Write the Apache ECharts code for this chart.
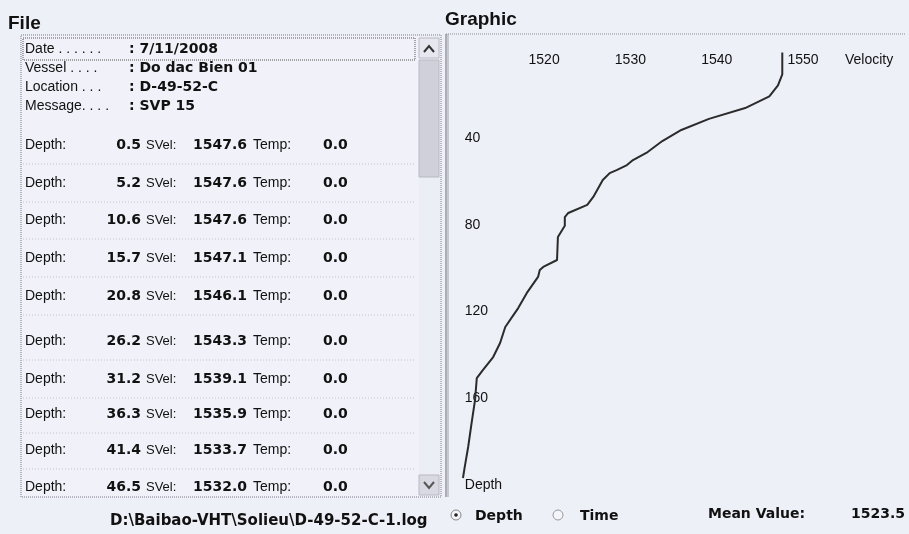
<!DOCTYPE html>
<html>
<head>
<meta charset="utf-8">
<script src="https://cdn.jsdelivr.net/npm/echarts@6/dist/echarts.min.js"></script>
<style>
html,body{margin:0;padding:0;background:#eef0f8;}
#chart{width:909px;height:534px;}
</style>
</head>
<body>
<div id="chart"></div>
<script>
// ---- data ----
const headerLabels = ['Date . . . . . .', 'Vessel . . . .', 'Location . . .', 'Message. . . .'];
const headerValues = ['7/11/2008', 'Do dac Bien 01', 'D-49-52-C', 'SVP 15'];
const listDepth = ['0.5', '5.2', '10.6', '15.7', '20.8', '26.2', '31.2', '36.3', '41.4', '46.5'];
const listSVel  = ['1547.6', '1547.6', '1547.6', '1547.1', '1546.1', '1543.3', '1539.1', '1535.9', '1533.7', '1532.0'];
const listTemp  = ['0.0', '0.0', '0.0', '0.0', '0.0', '0.0', '0.0', '0.0', '0.0', '0.0'];
const filePath = 'D:\\Baibao-VHT\\Solieu\\D-49-52-C-1.log';
const meanValue = '1523.5';

const profileDepth = [0.5, 5.2, 10.6, 15.7, 20.8, 26.2, 31.2, 36.3, 41.4, 46.5, 50.2, 52.5, 54.8, 56.2, 59.4, 67.2, 70.9, 74.6, 76.5, 80.5, 85.7, 96.3, 99.5, 100.9, 104.1, 111.5, 118.5, 120.8, 127.2, 134.6, 141.1, 147.1, 150.8, 160.9, 171.5, 182.6, 191.9, 196.9];
const profileVel   = [1547.6, 1547.6, 1547.6, 1547.1, 1546.1, 1543.3, 1539.1, 1535.9, 1533.7, 1532.0, 1530.3, 1529.6, 1528.4, 1527.6, 1526.8, 1525.7, 1525.0, 1522.8, 1522.4, 1522.4, 1521.6, 1521.5, 1519.9, 1519.5, 1519.3, 1518.0, 1517.0, 1516.6, 1515.5, 1514.9, 1514.1, 1512.9, 1512.2, 1512.0, 1511.6, 1511.2, 1510.8, 1510.6];

const xTickValues = [1520, 1530, 1540, 1550];
const xTickLabels = ['1520', '1530', '1540', '1550'];
const yTickValues = [40, 80, 120, 160, 200];
const yTickLabels = ['40', '80', '120', '160', 'Depth'];

// ---- layout helpers ----
const INK = '#111111';
const REG = '14px "Liberation Sans", Arial, sans-serif';
const BOLD = 'bold 14px "DejaVu Sans", sans-serif';
function txt(x, y, text, font, align, extra) {
  return Object.assign({
    type: 'text', x: x, y: y, silent: true,
    style: { text: text, font: font, fill: INK, align: align || 'left', verticalAlign: 'middle' }
  }, extra || {});
}
function hline(x1, x2, y, color, dash, w) {
  return { type: 'line', silent: true, shape: { x1: x1, y1: y, x2: x2, y2: y },
    style: { stroke: color, lineWidth: w || 1, lineDash: dash || null } };
}
function vline(x, y1, y2, color, dash, w) {
  return { type: 'line', silent: true, shape: { x1: x, y1: y1, x2: x, y2: y2 },
    style: { stroke: color, lineWidth: w || 1, lineDash: dash || null } };
}

const g = [];
// titles
g.push(txt(8, 24, 'File', 'bold 19px "Liberation Sans", Arial, sans-serif'));
g.push(txt(445, 20, 'Graphic', 'bold 19px "Liberation Sans", Arial, sans-serif'));

// list box
g.push({ type: 'rect', silent: true, shape: { x: 21, y: 35, width: 420, height: 462 },
  style: { fill: '#f1f2f9', stroke: '#7a7a86', lineWidth: 1, lineDash: [1, 1] } });
// scrollbar
g.push({ type: 'rect', silent: true, shape: { x: 419, y: 36, width: 21, height: 460 }, style: { fill: '#eceef6' } });
g.push({ type: 'rect', silent: true, shape: { x: 419, y: 60, width: 20, height: 117 }, style: { fill: '#cfd0da', stroke: '#b8b9c4', lineWidth: 1 } });
g.push({ type: 'rect', silent: true, shape: { x: 419, y: 38, width: 20, height: 20 }, style: { fill: '#e6e7ef', stroke: '#b8b9c4', lineWidth: 1 } });
g.push({ type: 'polyline', silent: true, shape: { points: [[424, 52], [429, 46], [434, 52]] }, style: { stroke: '#333', lineWidth: 2, fill: null } });
g.push({ type: 'rect', silent: true, shape: { x: 419, y: 475, width: 20, height: 20 }, style: { fill: '#d8d9e2', stroke: '#b8b9c4', lineWidth: 1 } });
g.push({ type: 'polyline', silent: true, shape: { points: [[424, 482], [429, 488], [434, 482]] }, style: { stroke: '#555', lineWidth: 2, fill: null } });

// header focus rectangle
g.push({ type: 'rect', silent: true, shape: { x: 23, y: 38, width: 392, height: 22 },
  style: { fill: null, stroke: '#555', lineWidth: 1, lineDash: [1, 1] } });
const headerY = [49, 68, 87, 106];
headerLabels.forEach(function (lab, i) {
  g.push(txt(25, headerY[i], lab, REG));
  g.push(txt(129, headerY[i], ': ' + headerValues[i], BOLD));
});

// data rows
const rowY = [145, 183, 220, 258, 296, 341, 379, 414, 450, 487];
listDepth.forEach(function (d, i) {
  const y = rowY[i];
  g.push(txt(25, y, 'Depth:', REG));
  g.push(txt(141, y, d, BOLD, 'right'));
  g.push(txt(146, y, 'SVel:', '13px "Liberation Sans", Arial, sans-serif'));
  g.push(txt(193, y, listSVel[i], BOLD));
  g.push(txt(253, y, 'Temp:', REG));
  g.push(txt(323, y, listTemp[i], BOLD));
  if (i < listDepth.length - 1) {
    g.push(hline(23, 415, y + 19, '#c2c4d0', [1, 2]));
  }
});

// path below list
g.push(txt(110, 521, filePath, 'bold 15px "DejaVu Sans", sans-serif'));

// graphic panel frame
g.push(hline(446, 905, 34, '#8a8a96', [1, 1]));
g.push(vline(446, 34, 497, '#6a6a74', null, 1));
g.push(vline(448, 34, 497, '#a0a0aa', null, 1));

// velocity axis name
g.push(txt(845, 60, 'Velocity', REG));

// radio buttons & mean value
g.push({ type: 'circle', silent: true, shape: { cx: 456, cy: 515, r: 5 }, style: { fill: '#f4f5fa', stroke: '#888', lineWidth: 1 } });
g.push({ type: 'circle', silent: true, shape: { cx: 456, cy: 515, r: 1.8 }, style: { fill: '#222' } });
g.push(txt(475, 516, 'Depth', BOLD));
g.push({ type: 'circle', silent: true, shape: { cx: 558, cy: 515, r: 5 }, style: { fill: '#f4f5fa', stroke: '#999', lineWidth: 1 } });
g.push(txt(580, 516, 'Time', BOLD));
g.push(txt(708, 514, 'Mean Value:', BOLD));
g.push(txt(905, 514, meanValue, BOLD, 'right'));

const seriesData = profileVel.map(function (v, i) { return [v, profileDepth[i]]; });

const chart = echarts.init(document.getElementById('chart'), null, { renderer: 'canvas' });
chart.setOption({
  backgroundColor: '#eef0f8',
  animation: false,
  grid: { left: 457.8, top: 51.3, width: 431.5, height: 433.4, containLabel: false },
  xAxis: {
    type: 'value', position: 'top', min: 1510, max: 1560, interval: 10,
    axisLine: { show: false }, axisTick: { show: false }, splitLine: { show: false },
    axisLabel: {
      margin: -9, verticalAlign: 'middle', color: INK,
      fontFamily: '"Liberation Sans", Arial, sans-serif', fontSize: 14,
      formatter: function (v) { const k = xTickValues.indexOf(v); return k >= 0 ? xTickLabels[k] : ''; }
    }
  },
  yAxis: {
    type: 'value', inverse: true, min: 0, max: 200, interval: 40,
    axisLine: { show: false }, axisTick: { show: false }, splitLine: { show: false },
    axisLabel: {
      inside: true, margin: 7, color: INK,
      fontFamily: '"Liberation Sans", Arial, sans-serif', fontSize: 14,
      formatter: function (v) { const k = yTickValues.indexOf(v); return k >= 0 ? yTickLabels[k] : ''; }
    }
  },
  series: [{
    type: 'line', data: seriesData, showSymbol: false, clip: false, smooth: false,
    lineStyle: { color: '#2b2b2b', width: 2 }
  }],
  graphic: { elements: g }
});
</script>
</body>
</html>
